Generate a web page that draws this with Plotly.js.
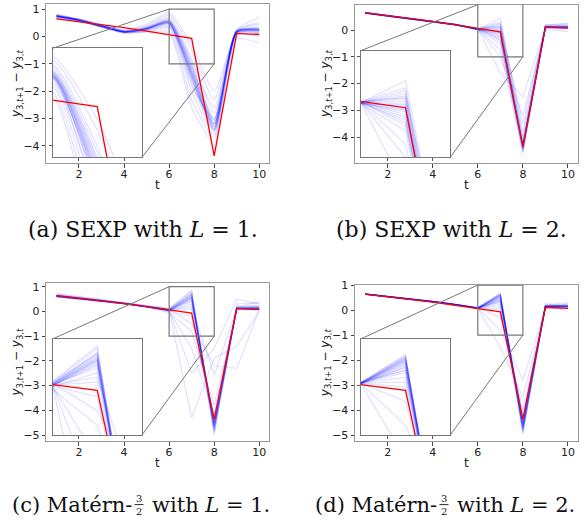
<!DOCTYPE html>
<html><head><meta charset="utf-8">
<script src="https://cdn.plot.ly/plotly-3.0.1.min.js"></script>
<style>html,body{margin:0;padding:0;background:#fff}#chart{width:587px;height:520px}</style>
</head><body><div id="chart"></div>
<script>
const t = [1,2,3,4,5,6,7,8,9,10];
const xTicks = [2,4,6,8,10];
const observed = [0.64,0.54,0.43,0.32,0.19,0.05,-0.07,-4.36,0.11,0.07];

const samplesA = [
 [0.74,0.60,0.38,0.17,0.28,0.52,-1.2,-3.2,0.18,0.25],
 [0.72,0.58,0.36,0.15,0.25,0.45,-1.5,-3.4,0.15,0.20],
 [0.76,0.61,0.40,0.19,0.32,0.60,-1.0,-3.0,0.20,0.30],
 [0.70,0.57,0.35,0.14,0.22,0.35,-1.7,-3.5,0.12,0.15],
 [0.78,0.62,0.41,0.20,0.35,0.70,-0.8,-2.8,0.22,0.35],
 [0.73,0.59,0.37,0.16,0.26,0.48,-1.3,-3.3,0.16,0.22],
 [0.75,0.60,0.39,0.18,0.30,0.55,-1.1,-3.1,0.19,0.28],
 [0.69,0.56,0.34,0.13,0.20,0.30,-2.0,-3.6,0.10,0.10],
 [0.80,0.63,0.42,0.22,0.40,0.78,-0.5,-2.3,0.24,0.50],
 [0.71,0.58,0.36,0.15,0.18,0.20,-2.3,-3.7,0.05,0.00],
 [0.77,0.61,0.40,0.19,0.33,0.65,-0.9,-2.6,0.21,0.45],
 [0.74,0.59,0.38,0.17,0.29,0.50,-1.6,-3.2,0.14,0.18],
 [0.72,0.57,0.35,0.16,0.24,0.40,-1.4,-3.4,0.17,0.26],
 [0.68,0.55,0.33,0.12,0.16,0.12,-2.6,-3.9,-0.10,-0.25],
 [0.82,0.64,0.44,0.24,0.45,0.85,-0.3,-2.0,0.25,0.70],
 [0.75,0.60,0.38,0.17,0.27,0.47,-1.8,-3.0,0.13,0.12],
 [0.75,0.61,0.39,0.18,0.29,0.54,-1.25,-3.25,0.17,0.24],
 [0.73,0.59,0.37,0.16,0.27,0.50,-1.45,-3.35,0.16,0.21],
 [0.76,0.60,0.38,0.17,0.30,0.57,-1.15,-3.15,0.19,0.27],
 [0.74,0.60,0.38,0.18,0.28,0.49,-1.35,-3.30,0.18,0.23],
 [0.72,0.58,0.36,0.16,0.26,0.46,-1.55,-3.45,0.15,0.19],
 [0.77,0.62,0.40,0.19,0.31,0.58,-1.05,-3.05,0.20,0.29],
 [0.74,0.59,0.37,0.17,0.28,0.53,-1.30,-3.20,0.17,0.22],
 [0.75,0.61,0.39,0.18,0.29,0.51,-1.40,-3.40,0.16,0.25]
];
const samplesB = [
 [0.64,0.53,0.42,0.31,0.20,0.03,-0.10,-4.35,0.12,0.10],
 [0.65,0.54,0.43,0.32,0.21,0.04,0.10,-4.20,0.13,0.14],
 [0.63,0.52,0.41,0.30,0.19,0.02,-0.30,-4.45,0.11,0.08],
 [0.66,0.55,0.43,0.32,0.21,0.05,0.30,-4.00,0.15,0.18],
 [0.62,0.52,0.41,0.30,0.19,0.01,-0.50,-4.55,0.10,0.06],
 [0.64,0.53,0.42,0.31,0.20,0.03,0.20,-4.25,0.14,0.15],
 [0.65,0.54,0.42,0.31,0.20,0.04,-0.20,-4.40,0.12,0.12],
 [0.63,0.53,0.42,0.31,0.20,0.02,0.44,-3.80,0.18,0.25],
 [0.64,0.53,0.42,0.31,0.20,0.03,-0.75,-4.60,0.08,0.02],
 [0.64,0.53,0.42,0.31,0.20,0.03,-1.60,-2.50,0.05,0.10],
 [0.65,0.54,0.43,0.32,0.21,0.04,0.00,-4.30,0.13,0.11],
 [0.63,0.52,0.41,0.30,0.19,0.02,-0.05,-4.50,0.11,0.09],
 [0.64,0.53,0.42,0.31,0.20,0.03,0.15,-3.50,0.20,0.22],
 [0.64,0.53,0.42,0.31,0.20,0.03,-0.40,-4.35,0.10,0.13],
 [0.64,0.53,0.42,0.31,0.20,0.03,-1.00,-3.20,0.02,-0.05],
 [0.64,0.53,0.42,0.31,0.20,0.03,0.25,-4.10,0.16,0.16],
 [0.66,0.55,0.44,0.33,0.22,0.05,-0.08,-4.38,0.12,0.11],
 [0.62,0.51,0.40,0.29,0.18,0.01,-0.12,-4.32,0.11,0.09],
 [0.65,0.54,0.43,0.32,0.21,0.04,0.05,-4.42,0.13,0.12],
 [0.63,0.52,0.41,0.30,0.19,0.02,-0.15,-4.28,0.12,0.10],
 [0.64,0.53,0.42,0.31,0.20,0.03,-0.25,-4.48,0.11,0.08],
 [0.66,0.55,0.43,0.32,0.21,0.05,0.12,-4.36,0.14,0.13],
 [0.62,0.52,0.41,0.30,0.19,0.01,-0.02,-4.40,0.12,0.11],
 [0.65,0.54,0.43,0.32,0.21,0.04,-0.35,-4.30,0.13,0.12]
];
const samplesC = [
 [0.62,0.54,0.43,0.32,0.20,0.05,0.55,-4.60,0.12,0.12],
 [0.64,0.55,0.44,0.33,0.21,0.06,0.65,-4.70,0.14,0.18],
 [0.60,0.52,0.42,0.31,0.19,0.03,0.45,-4.50,0.10,0.10],
 [0.70,0.58,0.46,0.35,0.23,0.10,0.80,-4.80,0.18,0.25],
 [0.58,0.51,0.41,0.30,0.18,0.00,0.30,-4.40,0.08,0.08],
 [0.63,0.54,0.43,0.32,0.20,0.05,0.60,-4.90,0.13,0.15],
 [0.62,0.54,0.43,0.32,0.20,0.04,0.10,-4.30,0.15,0.20],
 [0.65,0.56,0.45,0.34,0.22,0.08,-0.50,-2.20,-2.30,0.05],
 [0.61,0.53,0.42,0.31,0.19,0.02,-1.50,-4.20,0.30,0.35],
 [0.63,0.54,0.43,0.32,0.20,0.05,-4.30,-1.90,-1.40,0.00],
 [0.66,0.56,0.45,0.34,0.22,0.09,0.70,-4.50,0.11,0.14],
 [0.60,0.52,0.42,0.31,0.19,0.02,-0.20,-4.60,0.20,0.22],
 [0.64,0.55,0.44,0.33,0.21,0.06,-2.50,-1.50,0.50,0.30],
 [0.62,0.54,0.43,0.32,0.20,0.05,0.20,-2.60,0.15,0.40],
 [0.72,0.60,0.48,0.36,0.24,0.12,0.85,-5.00,0.12,0.10],
 [0.59,0.51,0.41,0.30,0.18,-0.05,-0.80,-3.80,0.05,0.12],
 [0.63,0.54,0.43,0.32,0.20,0.05,0.58,-4.65,0.12,0.13],
 [0.61,0.53,0.42,0.31,0.19,0.03,0.52,-4.55,0.11,0.11],
 [0.65,0.56,0.45,0.34,0.22,0.07,0.68,-4.75,0.14,0.16],
 [0.62,0.53,0.42,0.31,0.19,0.04,0.48,-4.45,0.13,0.12],
 [0.64,0.55,0.44,0.33,0.21,0.06,0.62,-4.85,0.12,0.14],
 [0.60,0.52,0.41,0.30,0.18,0.02,0.56,-4.60,0.10,0.10],
 [0.66,0.57,0.46,0.35,0.23,0.08,0.72,-4.70,0.15,0.17],
 [0.63,0.54,0.43,0.32,0.20,0.05,0.40,-4.50,0.13,0.15]
];
const samplesD = [
 [0.64,0.55,0.45,0.34,0.22,0.08,0.60,-4.60,0.15,0.15],
 [0.65,0.56,0.46,0.35,0.23,0.09,0.67,-4.80,0.17,0.20],
 [0.63,0.54,0.44,0.33,0.21,0.07,0.50,-4.50,0.14,0.12],
 [0.64,0.55,0.45,0.34,0.22,0.08,0.40,-4.40,0.16,0.18],
 [0.64,0.55,0.45,0.34,0.22,0.08,0.30,-4.70,0.13,0.10],
 [0.65,0.56,0.46,0.35,0.23,0.09,0.20,-4.30,0.18,0.22],
 [0.63,0.54,0.44,0.33,0.21,0.07,0.55,-4.90,0.15,0.14],
 [0.64,0.55,0.45,0.34,0.22,0.08,0.10,-4.20,0.12,0.08],
 [0.64,0.55,0.45,0.34,0.22,0.08,0.00,-4.60,0.16,0.16],
 [0.64,0.55,0.45,0.34,0.22,0.08,-0.80,-2.80,0.05,0.25],
 [0.65,0.56,0.46,0.35,0.23,0.09,0.62,-4.65,0.17,0.17],
 [0.63,0.54,0.44,0.33,0.21,0.07,0.45,-4.75,0.14,0.13],
 [0.64,0.55,0.45,0.34,0.22,0.08,-0.30,-4.00,0.20,0.30],
 [0.64,0.55,0.45,0.34,0.22,0.08,-1.50,-3.50,0.10,0.05],
 [0.64,0.55,0.45,0.34,0.22,0.08,0.35,-4.55,0.25,0.15],
 [0.64,0.55,0.45,0.34,0.22,0.08,0.58,-4.95,0.15,-0.05],
 [0.64,0.55,0.45,0.34,0.22,0.08,0.62,-4.70,0.15,0.15],
 [0.65,0.56,0.46,0.35,0.23,0.09,0.52,-4.60,0.16,0.16],
 [0.63,0.54,0.44,0.33,0.21,0.07,0.58,-4.80,0.14,0.14],
 [0.64,0.55,0.45,0.34,0.22,0.08,0.48,-4.50,0.15,0.17],
 [0.66,0.57,0.46,0.35,0.23,0.10,0.65,-4.85,0.16,0.13],
 [0.62,0.53,0.43,0.32,0.20,0.06,0.42,-4.45,0.14,0.15],
 [0.64,0.55,0.45,0.34,0.22,0.08,0.55,-4.65,0.15,0.16],
 [0.65,0.56,0.46,0.35,0.23,0.09,0.35,-4.40,0.16,0.18]
];
const captionsTop = ['(a) SEXP with <i>L</i> = 1.', '(b) SEXP with <i>L</i> = 2.'];
const captionsBottomHead = ['(c) Matérn-', '(d) Matérn-'];
const captionsBottomTail = ['with <i>L</i> = 1.', 'with <i>L</i> = 2.'];
const fractionText = '3<br>2';
const yTitle = '<i>y</i><sub>3,<i>t</i>+1</sub> − <i>y</i><sub>3,<i>t</i></sub>';

const W = 587, H = 520;
const XR = [0.55, 10.45];
const zoomX = [6, 8], zoomY = [-1, 1];
const panels = [
 {s: samplesA, n: 1, spline: true, xPx: [46.3, 269.4], yPx: [4.33, 163.3], yr: [-4.633, 1.172], yt: [-4,-3,-2,-1,0,1], ixPx: [52.5, 142], iyPx: [48.3, 157.3]},
 {s: samplesB, n: 2, spline: false, xPx: [355.0, 578.1], yPx: [4.67, 163.3], yr: [-4.98, 0.947], yt: [-4,-3,-2,-1,0], ixPx: [360.7, 450.3], iyPx: [50.7, 157.3]},
 {s: samplesC, n: 3, spline: false, xPx: [46.3, 269.4], yPx: [283.3, 441.3], yr: [-5.255, 1.138], yt: [-5,-4,-3,-2,-1,0,1], ixPx: [52.5, 142], iyPx: [339, 435]},
 {s: samplesD, n: 4, spline: false, xPx: [355.0, 578.1], yPx: [285, 441.3], yr: [-5.25, 1.001], yt: [-5,-4,-3,-2,-1,0,1], ixPx: [360.7, 450.3], iyPx: [339, 435]}
];

const fx = px => px / W, fy = py => 1 - py / H;
const data = [], layout = {
  width: W, height: H, margin: {l: 0, r: 0, t: 0, b: 0},
  paper_bgcolor: '#fff', plot_bgcolor: '#fff', showlegend: false,
  font: {family: 'DejaVu Sans', size: 11, color: '#222'},
  shapes: [], annotations: []
};
const blue = 'rgba(0,0,255,0.12)';

panels.forEach((p, k) => {
  const xa = 'x' + (p.n === 1 ? '' : p.n), ya = 'y' + (p.n === 1 ? '' : p.n);
  const ixn = p.n + 4, ixa = 'x' + ixn, iya = 'y' + ixn;
  const xd = [fx(p.xPx[0]), fx(p.xPx[1])], yd = [fy(p.yPx[1]), fy(p.yPx[0])];
  const ixd = [fx(p.ixPx[0]), fx(p.ixPx[1])], iyd = [fy(p.iyPx[1]), fy(p.iyPx[0])];
  const line = p.spline ? {color: blue, width: 1.2, shape: 'spline', smoothing: 0.6} : {color: blue, width: 1.2};
  [[xa, ya], [ixa, iya]].forEach(([X, Y]) => {
    p.s.forEach(row => data.push({x: t, y: row, xaxis: X, yaxis: Y, type: 'scatter', mode: 'lines',
      line: line, hoverinfo: 'skip'}));
    data.push({x: t, y: observed, xaxis: X, yaxis: Y, type: 'scatter', mode: 'lines',
      line: {color: '#ff0000', width: 1.3}, hoverinfo: 'skip'});
  });
  const mainAx = {showgrid: false, zeroline: false, showline: true, mirror: true, linecolor: '#999', linewidth: 1,
    ticks: 'outside', ticklen: 3.5, tickwidth: 1, tickcolor: '#444', tickfont: {size: 11, color: '#222'}};
  layout['xaxis' + (p.n === 1 ? '' : p.n)] = Object.assign({}, mainAx, {domain: xd, range: XR, anchor: ya, tickvals: xTicks, ticklabelstandoff: -3});
  layout['yaxis' + (p.n === 1 ? '' : p.n)] = Object.assign({}, mainAx, {domain: yd, range: p.yr, anchor: xa, tickvals: p.yt});
  const mx = v => xd[0] + (v - XR[0]) / (XR[1] - XR[0]) * (xd[1] - xd[0]);
  const my = v => yd[0] + (v - p.yr[0]) / (p.yr[1] - p.yr[0]) * (yd[1] - yd[0]);
  const ixt = xTicks.map(v => zoomX[0] + (mx(v) - ixd[0]) / (ixd[1] - ixd[0]) * (zoomX[1] - zoomX[0])).filter(v => v > zoomX[0] + 0.01 && v < zoomX[1] - 0.01);
  const iyt = p.yt.map(v => zoomY[0] + (my(v) - iyd[0]) / (iyd[1] - iyd[0]) * (zoomY[1] - zoomY[0])).filter(v => v > zoomY[0] + 0.01 && v < zoomY[1] - 0.01);
  const inAx = {showgrid: false, zeroline: false, showline: true, mirror: true, linecolor: '#777', linewidth: 1,
    ticks: 'outside', ticklen: 3, tickwidth: 1, tickcolor: '#555', showticklabels: false};
  layout['xaxis' + ixn] = Object.assign({}, inAx, {domain: ixd, range: zoomX, anchor: iya, tickvals: ixt});
  layout['yaxis' + ixn] = Object.assign({}, inAx, {domain: iyd, range: zoomY, anchor: ixa, tickvals: iyt});
  layout.shapes.push({type: 'rect', xref: xa, yref: ya, x0: zoomX[0], x1: zoomX[1], y0: zoomY[0], y1: zoomY[1], line: {color: '#777', width: 1.2}});
  layout.shapes.push({type: 'line', xref: 'paper', yref: 'paper', x0: mx(zoomX[0]), y0: Math.min(my(zoomY[1]), yd[1]), x1: ixd[0], y1: iyd[1], line: {color: '#777', width: 1}});
  layout.shapes.push({type: 'line', xref: 'paper', yref: 'paper', x0: mx(zoomX[1]), y0: my(zoomY[0]), x1: ixd[1], y1: iyd[0], line: {color: '#777', width: 1}});
  const cx = (p.xPx[0] + p.xPx[1]) / 2, cy = (p.yPx[0] + p.yPx[1]) / 2;
  layout.annotations.push({xref: 'paper', yref: 'paper', x: fx(cx), y: fy(p.yPx[1] + 22), text: 't', showarrow: false,
    xanchor: 'center', yanchor: 'middle', font: {size: 12, color: '#222'}});
  layout.annotations.push({xref: 'paper', yref: 'paper', x: fx(p.xPx[0] - 29), y: fy(cy), text: yTitle, showarrow: false,
    textangle: -90, xanchor: 'center', yanchor: 'middle', font: {size: 12, color: '#222'}});
});

const serifTop = {family: 'DejaVu Serif', size: 22, color: '#111'};
const serif = {family: 'DejaVu Serif', size: 21, color: '#111'};
layout.annotations.push({xref: 'paper', yref: 'paper', x: fx(142.5), y: fy(229), text: captionsTop[0], showarrow: false, xanchor: 'center', yanchor: 'middle', font: serifTop});
layout.annotations.push({xref: 'paper', yref: 'paper', x: fx(451.5), y: fy(229), text: captionsTop[1], showarrow: false, xanchor: 'center', yanchor: 'middle', font: serifTop});
[[133, 139, 151], [438, 444, 456]].forEach((c, i) => {
  layout.annotations.push({xref: 'paper', yref: 'paper', x: fx(c[0]), y: fy(505), text: captionsBottomHead[i], showarrow: false, xanchor: 'right', yanchor: 'middle', font: serif, borderpad: 0});
  layout.annotations.push({xref: 'paper', yref: 'paper', x: fx(c[1]), y: fy(504.8), text: fractionText, showarrow: false, xanchor: 'center', yanchor: 'middle', font: {family: 'DejaVu Serif', size: 10, color: '#111'}, borderpad: 0});
  layout.shapes.push({type: 'line', xref: 'paper', yref: 'paper', x0: fx(c[1] - 4.5), x1: fx(c[1] + 4.5), y0: fy(504.6), y1: fy(504.6), line: {color: '#111', width: 0.9}});
  layout.annotations.push({xref: 'paper', yref: 'paper', x: fx(c[2]), y: fy(505), text: captionsBottomTail[i], showarrow: false, xanchor: 'left', yanchor: 'middle', font: serif, borderpad: 0});
});

Plotly.newPlot('chart', data, layout, {staticPlot: true});
</script></body></html>
